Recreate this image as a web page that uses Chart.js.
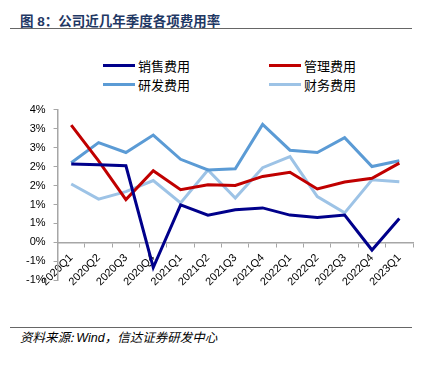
<!DOCTYPE html>
<html>
<head>
<meta charset="utf-8">
<script src="https://cdn.jsdelivr.net/npm/chart.js@4.4.0/dist/chart.umd.min.js"></script>
<style>
  body { margin: 0; width: 432px; height: 365px; background: #fff; position: relative; overflow: hidden; font-family: "Liberation Sans", "Noto Sans CJK SC", sans-serif; }
  .title { position: absolute; left: 20px; top: 10px; font: bold 13.5px "Liberation Sans", "Noto Sans CJK SC"; color: #1f3864; }
  .rule { position: absolute; left: 10px; width: 402px; height: 0; border-top: 1.5px solid #666; }
  .legend { position: absolute; left: 103px; top: 56px; display: grid; grid-template-columns: 166px 166px; grid-auto-rows: 19px; }
  .legend .item { display: flex; align-items: center; font: 13px "Noto Sans CJK SC"; color: #000; }
  .legend .swatch { width: 32px; height: 3px; margin-right: 3px; }
  .source { position: absolute; left: 20px; top: 327px; font: italic 12.5px "Noto Sans CJK SC"; color: #000; }
  .source b { font: 12.5px "Liberation Sans"; font-style: italic; }
  #wrap { position: absolute; left: 0; top: 95px; width: 432px; height: 200px; }
</style>
</head>
<body>
<div class="title">图 8：公司近几年季度各项费用率</div>
<div class="rule" style="top:28px"></div>
<div class="legend" id="legend"></div>
<div id="wrap"><canvas id="chart"></canvas></div>
<div class="rule" style="top:327px"></div>
<div class="source">资料来源: <b>Wind</b>，信达证券研发中心</div>
<script>
const quarters = ['2020Q1', '2020Q2', '2020Q3', '2020Q4', '2021Q1', '2021Q2', '2021Q3', '2021Q4', '2022Q1', '2022Q2', '2022Q3', '2022Q4', '2023Q1'];
const salesRate = [2.07, 2.05, 2.02, -0.66, 0.99, 0.72, 0.86, 0.91, 0.72, 0.66, 0.72, -0.20, 0.63];
const adminRate = [3.09, 2.15, 1.13, 1.89, 1.39, 1.52, 1.50, 1.74, 1.85, 1.41, 1.59, 1.69, 2.09];
const rdRate = [2.10, 2.63, 2.37, 2.83, 2.19, 1.91, 1.94, 3.11, 2.43, 2.37, 2.76, 2.00, 2.15];
const financeRate = [1.54, 1.14, 1.34, 1.63, 1.04, 1.91, 1.17, 1.97, 2.26, 1.21, 0.78, 1.65, 1.60];
const seriesNames = ['销售费用', '管理费用', '研发费用', '财务费用'];
const seriesColors = ['#00008b', '#c00000', '#5b9bd5', '#9dc3e6'];
const seriesData = [salesRate, adminRate, rdRate, financeRate];

// legend as html, two columns like the original
const legend = document.getElementById('legend');
seriesNames.forEach((name, i) => {
  const item = document.createElement('div');
  item.className = 'item';
  item.innerHTML = `<span class="swatch" style="background:${seriesColors[i]}"></span>${name}`;
  legend.appendChild(item);
});

const axisGrey = '#a6a6a6';

new Chart(document.getElementById('chart'), {
  type: 'line',
  data: {
    labels: quarters,
    datasets: seriesData.map((data, i) => ({
      label: seriesNames[i],
      data: data,
      borderColor: seriesColors[i],
      backgroundColor: seriesColors[i],
      borderWidth: 3,
      pointRadius: 0,
      tension: 0,
    })),
  },
  options: {
    animation: false,
    responsive: true,
    maintainAspectRatio: false,
    layout: { padding: { left: 18, right: 19, top: 10, bottom: 10 } },
    plugins: { legend: { display: false }, tooltip: { enabled: false } },
    scales: {
      x: {
        position: { y: 0 },
        offset: true,
        grid: { offset: true, drawOnChartArea: false, tickLength: 4, color: axisGrey },
        border: { color: axisGrey, width: 1.5 },
        ticks: {
          autoSkip: false,
          minRotation: 45,
          maxRotation: 45,
          padding: 5,
          color: '#000',
          font: { family: 'Liberation Sans', size: 11 },
        },
      },
      y: {
        min: -1,
        max: 3.5,
        grid: { drawOnChartArea: false, tickLength: 4, color: axisGrey },
        border: { color: axisGrey, width: 1.5 },
        ticks: {
          stepSize: 0.5,
          padding: 8,
          color: '#000',
          font: { family: 'Liberation Sans', size: 11 },
          // excel-style 0% format, rounds half away from zero
          callback: (v) => {
            const r = Math.sign(v) * Math.round(Math.abs(v) + 1e-9);
            return (r === 0 ? 0 : r) + '%';
          },
        },
      },
    },
  },
});
</script>
</body>
</html>
